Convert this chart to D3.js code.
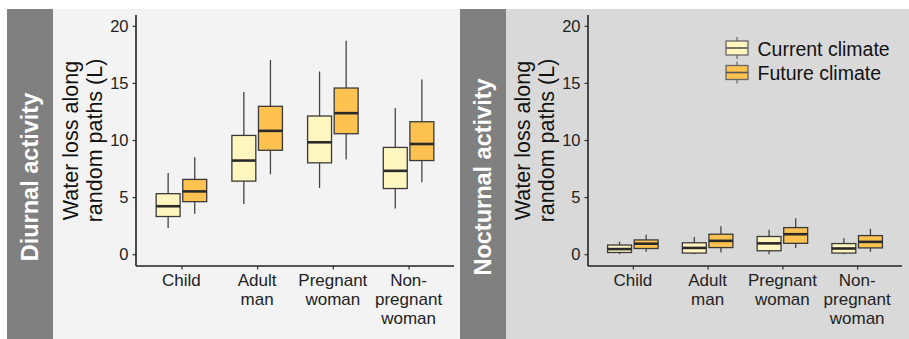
<!DOCTYPE html>
<html><head><meta charset="utf-8">
<script src="https://cdn.jsdelivr.net/npm/d3@7"></script>
<style>body{margin:0;background:#fff}svg{display:block;font-family:"Liberation Sans",Arial,sans-serif}</style>
</head><body><svg id="c" width="909" height="339"></svg>
<script>
// ---- data ----
const categories = ["Child", "Adult man", "Pregnant woman", "Non-pregnant woman"];
const categoryLabels = [["Child"], ["Adult", "man"], ["Pregnant", "woman"], ["Non-", "pregnant", "woman"]];
const seriesNames = ["Current climate", "Future climate"];
const yTicks = [0, 5, 10, 15, 20];
const panelTitles = ["Diurnal activity", "Nocturnal activity"];
// [lower whisker, Q1, median, Q3, upper whisker]
const diurnalCurrent = [[2.3, 3.3, 4.2, 5.3, 7.1], [4.4, 6.4, 8.2, 10.4, 14.2], [5.8, 8.0, 9.8, 12.1, 16.0], [4.0, 5.75, 7.3, 9.35, 12.8]];
const diurnalFuture  = [[3.55, 4.6, 5.5, 6.55, 8.5], [7.0, 9.1, 10.8, 12.95, 17.0], [8.3, 10.55, 12.35, 14.55, 18.7], [6.3, 8.2, 9.65, 11.6, 15.3]];
const nocturnalCurrent = [[0.0, 0.15, 0.45, 0.8, 1.1], [0.0, 0.1, 0.55, 1.0, 1.5], [0.0, 0.3, 0.95, 1.55, 2.15], [0.0, 0.1, 0.5, 0.93, 1.4]];
const nocturnalFuture  = [[0.22, 0.5, 0.92, 1.25, 1.7], [0.15, 0.58, 1.17, 1.75, 2.45], [0.55, 0.95, 1.75, 2.33, 3.15], [0.2, 0.55, 1.08, 1.63, 2.22]];
const fillColors = ["#fff6bf", "#fdc24f"];

const svg = d3.select("#c");
const panels = [
  {bx: 53, bw: 407, bg: "#f3f3f3", sx: 7, axisX: 136, xEnd: 454, data: [diurnalCurrent, diurnalFuture], legend: false, strip: 30},
  {bx: 506, bw: 403, bg: "#d9d9d9", sx: 460, axisX: 588, xEnd: 902, data: [nocturnalCurrent, nocturnalFuture], legend: true, strip: 483}
];

panels.forEach((p, pi) => {
  svg.append("rect").attr("x", p.bx).attr("y", 9).attr("width", p.bw).attr("height", 330).attr("fill", p.bg);
  svg.append("rect").attr("x", p.sx).attr("y", 9).attr("width", 46).attr("height", 330).attr("fill", "#808080");
  svg.append("text").attr("transform", `translate(${p.strip},177) rotate(-90)`)
    .attr("text-anchor", "middle").attr("dy", "0.35em").attr("fill", "#fff")
    .attr("font-weight", "bold").attr("font-size", 23.5).text(panelTitles[pi]);

  const x = d3.scalePoint().domain(categories).range([p.axisX, p.xEnd]).padding(0.6);
  const y = d3.scaleLinear().domain([0, 20]).range([254.2, 25.8]);
  const dodge = d3.scaleBand().domain(seriesNames).range([-26.6, 26.6]).paddingInner(0.1).paddingOuter(0.05);

  // axes
  const yAxis = svg.append("g").attr("transform", `translate(${p.axisX},0)`)
    .call(d3.axisLeft(y).tickValues(yTicks).tickSize(3.5).tickPadding(4));
  yAxis.select(".domain").remove();
  yAxis.selectAll("line").attr("stroke", "#333").attr("stroke-width", 1.2);
  yAxis.selectAll("text").attr("font-size", 16.5).attr("fill", "#222").attr("font-family", '"Liberation Sans",Arial,sans-serif');
  svg.append("line").attr("x1", p.axisX).attr("x2", p.axisX).attr("y1", 15).attr("y2", 266).attr("stroke", "#222").attr("stroke-width", 1.6);
  svg.append("line").attr("x1", p.axisX).attr("x2", p.xEnd).attr("y1", 266).attr("y2", 266).attr("stroke", "#222").attr("stroke-width", 1.6);
  const xAxis = svg.append("g").attr("transform", "translate(0,266)")
    .call(d3.axisBottom(x).tickSize(3.5).tickFormat(""));
  xAxis.select(".domain").remove();
  xAxis.selectAll("line").attr("stroke", "#333").attr("stroke-width", 1.2);
  categories.forEach((c, i) => {
    const t = svg.append("text").attr("text-anchor", "middle").attr("font-size", 17).attr("fill", "#222");
    categoryLabels[i].forEach((ln, j) => t.append("tspan").attr("x", x(c)).attr("y", 286 + j * 19).text(ln));
  });
  // y title
  const yt = svg.append("text").attr("transform", `translate(${p.axisX - 54},140.5) rotate(-90)`)
    .attr("text-anchor", "middle").attr("font-size", 21.5).attr("fill", "#111");
  yt.append("tspan").attr("x", 0).attr("y", -12).attr("dy", "0.35em").text("Water loss along");
  yt.append("tspan").attr("x", 0).attr("y", 12).attr("dy", "0.35em").text("random paths (L)");

  // boxes
  p.data.forEach((series, si) => {
    const bw = dodge.bandwidth();
    series.forEach((d, ci) => {
      const x0 = x(categories[ci]) + dodge(seriesNames[si]);
      const cx = x0 + bw / 2;
      const g = svg.append("g");
      g.append("line").attr("x1", cx).attr("x2", cx).attr("y1", y(d[4])).attr("y2", y(d[3])).attr("stroke", "#444").attr("stroke-width", 1.3);
      g.append("line").attr("x1", cx).attr("x2", cx).attr("y1", y(d[1])).attr("y2", y(d[0])).attr("stroke", "#444").attr("stroke-width", 1.3);
      g.append("rect").attr("x", x0).attr("width", bw).attr("y", y(d[3])).attr("height", y(d[1]) - y(d[3]))
        .attr("fill", fillColors[si]).attr("stroke", "#3a3a3a").attr("stroke-width", 1.3);
      g.append("line").attr("x1", x0).attr("x2", x0 + bw).attr("y1", y(d[2])).attr("y2", y(d[2])).attr("stroke", "#2a2a2a").attr("stroke-width", 2.6);
    });
  });

  if (p.legend) {
    seriesNames.forEach((s, si) => {
      const cy = 48 + si * 24.5;
      const kx = 726, kw = 22;
      svg.append("line").attr("x1", kx + kw / 2).attr("x2", kx + kw / 2).attr("y1", cy - 11).attr("y2", cy + 11).attr("stroke", "#666").attr("stroke-width", 1.2);
      svg.append("rect").attr("x", kx).attr("y", cy - 7).attr("width", kw).attr("height", 14).attr("fill", fillColors[si]).attr("stroke", "#666").attr("stroke-width", 1.3);
      svg.append("line").attr("x1", kx).attr("x2", kx + kw).attr("y1", cy).attr("y2", cy).attr("stroke", "#555").attr("stroke-width", 1.6);
      svg.append("text").attr("x", 757.5).attr("y", cy + 1).attr("dy", "0.35em").attr("font-size", 19.5).attr("fill", "#111").text(s);
    });
  }
});
</script></body></html>
